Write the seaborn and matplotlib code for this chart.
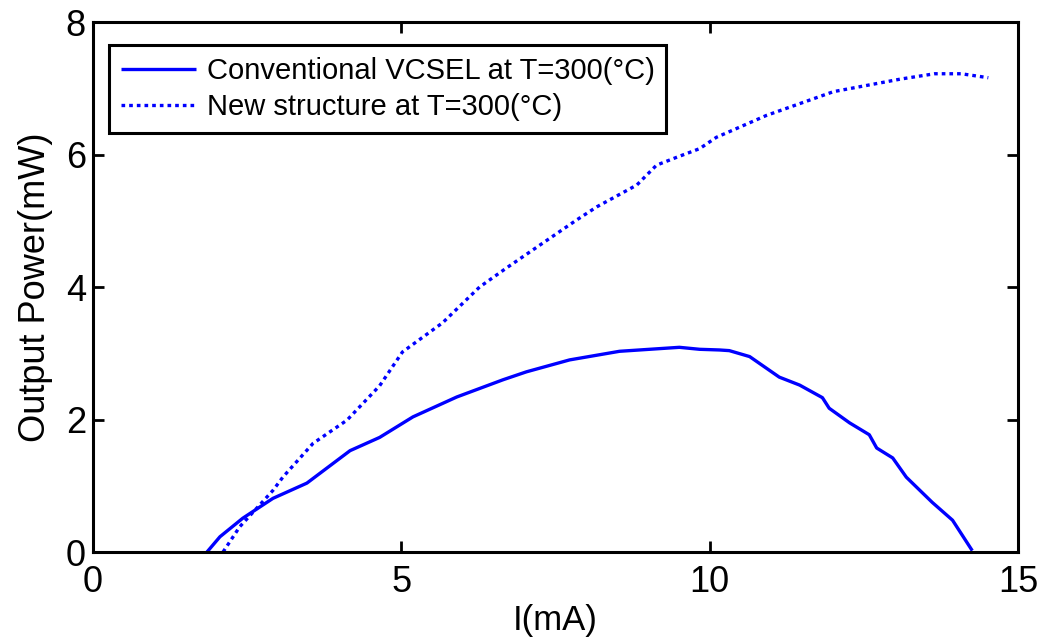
import numpy as np
import pandas as pd
import seaborn as sns
import matplotlib.pyplot as plt

# values
conv_I = [1.85, 2.06, 2.43, 2.92, 3.47, 4.17, 4.65, 5.19, 5.90, 6.65, 7.03, 7.73, 8.54,
          9.51, 9.84, 10.16, 10.32, 10.65, 11.13, 11.46, 11.83, 11.94, 12.27, 12.59,
          12.71, 12.97, 13.19, 13.61, 13.94, 14.26]
conv_P = [0.0, 0.23, 0.51, 0.81, 1.04, 1.53, 1.73, 2.04, 2.34, 2.60, 2.72, 2.90, 3.03,
          3.09, 3.06, 3.05, 3.04, 2.95, 2.64, 2.52, 2.33, 2.17, 1.95, 1.77,
          1.57, 1.42, 1.13, 0.75, 0.48, 0.02]

new_I = [2.11, 2.38, 2.92, 3.08, 3.57, 4.12, 4.65, 5.02, 5.67, 6.27, 6.71, 7.29, 7.84,
         8.17, 8.82, 9.14, 9.47, 9.84, 10.11, 10.92, 12.01, 13.10, 13.65, 14.08, 14.52]
new_P = [0.0, 0.38, 0.93, 1.13, 1.64, 1.99, 2.51, 3.02, 3.46, 4.00, 4.29, 4.66, 5.01,
         5.21, 5.54, 5.84, 5.96, 6.09, 6.26, 6.59, 6.95, 7.14, 7.22, 7.22, 7.16]

label_conv = 'Conventional VCSEL at T=300(°C)'
label_new = 'New structure at T=300(°C)'

df = pd.concat([
    pd.DataFrame({'I': conv_I, 'P': conv_P, 'curve': label_conv}),
    pd.DataFrame({'I': new_I, 'P': new_P, 'curve': label_new}),
], ignore_index=True)

sns.set_style('ticks')
plt.rcParams['font.family'] = ['Liberation Sans', 'DejaVu Sans']
plt.rcParams['text.color'] = 'black'
plt.rcParams['axes.labelcolor'] = 'black'
plt.rcParams['xtick.color'] = 'black'
plt.rcParams['ytick.color'] = 'black'

fig = plt.figure(figsize=(10.44, 6.4), dpi=100)
ax = fig.add_axes([0.089, 0.1375, 0.886, 0.828])

sns.lineplot(data=df, x='I', y='P', hue='curve', style='curve',
             palette=['#0000ff', '#0000ff'], dashes=[(1, 0), (1.1, 1.2)],
             linewidth=2.4, sort=False, estimator=None, ax=ax)

ax.set_xlim(0, 15)
ax.set_ylim(0, 8)
ax.set_xticks([0, 5, 10, 15])
ax.set_yticks([0, 2, 4, 6, 8])
ax.tick_params(direction='in', length=8, width=2, labelsize=26,
               top=True, right=True)
ax.tick_params(axis='x', pad=9)
ax.tick_params(axis='y', pad=5)
for s in ax.spines.values():
    s.set_linewidth(2.2)
    s.set_color('black')
ax.set_xlabel('I(mA)', fontsize=25, labelpad=3)
ax.set_ylabel('Output Power(mW)', fontsize=26, labelpad=9)

leg = ax.legend(loc='upper left', bbox_to_anchor=(0.0173, 0.9566), borderaxespad=0,
                fontsize=21, frameon=True, fancybox=False, edgecolor='black',
                framealpha=1, handlelength=2.6, borderpad=0.4, labelspacing=0.3,
                handletextpad=0.36)
leg.get_frame().set_linewidth(2.2)

fig.savefig('out.png', dpi=100)
